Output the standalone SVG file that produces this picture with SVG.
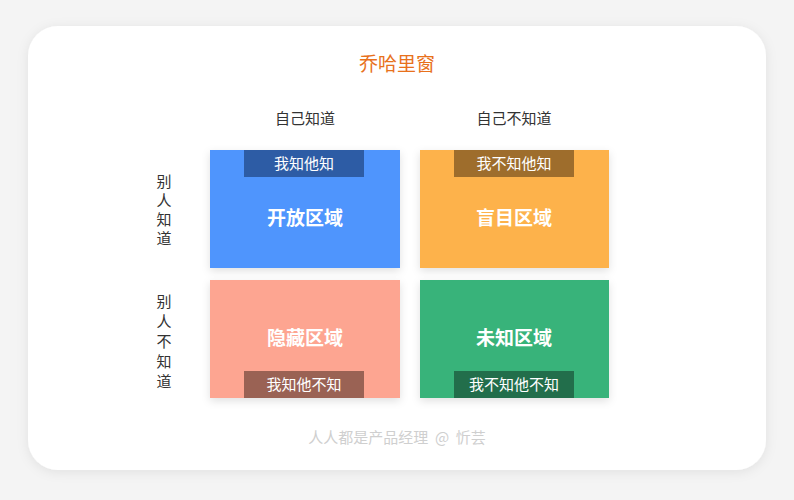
<svg xmlns="http://www.w3.org/2000/svg" width="794" height="500" viewBox="0 0 794 500">
<defs>
<filter id="sh" x="-20%" y="-20%" width="140%" height="140%"><feDropShadow dx="0" dy="3" stdDeviation="4" flood-color="#000" flood-opacity="0.12"/></filter>
<filter id="sh2" x="-10%" y="-10%" width="120%" height="120%"><feDropShadow dx="0" dy="2" stdDeviation="6" flood-color="#000" flood-opacity="0.08"/></filter>
</defs>
<style>
text{font-family:"Noto Sans CJK SC","Noto Sans",sans-serif;text-anchor:middle}
.h{font-size:15px;fill:#333}
.big{font-size:19px;font-weight:bold;fill:#fff}
.tag{font-size:15px;fill:#fff}
</style>
<rect width="794" height="500" fill="#f4f4f4"/>
<rect x="28" y="26" width="738" height="444" rx="30" fill="#fff" filter="url(#sh2)"/>
<text x="397" y="71" font-size="19" fill="#e8711c">乔哈里窗</text>
<text class="h" x="305" y="124">自己知道</text>
<text class="h" x="514" y="124">自己不知道</text>
<text class="h" x="164" y="187">别</text><text class="h" x="164" y="206">人</text><text class="h" x="164" y="225">知</text><text class="h" x="164" y="244">道</text>
<text class="h" x="164" y="307">别</text><text class="h" x="164" y="327">人</text><text class="h" x="164" y="347">不</text><text class="h" x="164" y="367">知</text><text class="h" x="164" y="387">道</text>
<g id="open"><rect x="210" y="150" width="190" height="118" fill="#4f95fd" filter="url(#sh)"/><rect x="244" y="150" width="120" height="27" fill="#2d5ca5"/><text class="tag" x="304" y="169">我知他知</text><text class="big" x="305" y="225">开放区域</text></g>
<g id="blind"><rect x="420" y="150" width="189" height="118" fill="#fdb24b" filter="url(#sh)"/><rect x="454" y="150" width="120" height="27" fill="#9e6d2c"/><text class="tag" x="514" y="169">我不知他知</text><text class="big" x="514" y="225">盲目区域</text></g>
<g id="hidden"><rect x="210" y="280" width="190" height="118" fill="#fda591" filter="url(#sh)"/><rect x="244" y="371" width="120" height="27" fill="#9a6254"/><text class="tag" x="304" y="390">我知他不知</text><text class="big" x="305" y="345">隐藏区域</text></g>
<g id="unknown"><rect x="420" y="280" width="189" height="118" fill="#38b37a" filter="url(#sh)"/><rect x="454" y="371" width="120" height="27" fill="#226e4b"/><text class="tag" x="514" y="390">我不知他不知</text><text class="big" x="514" y="345">未知区域</text></g>
<g id="connectors"/>
<text x="397" y="443" font-size="15" fill="#cfcfcf" xml:space="preserve">人人都是产品经理  @  忻芸</text>
</svg>
